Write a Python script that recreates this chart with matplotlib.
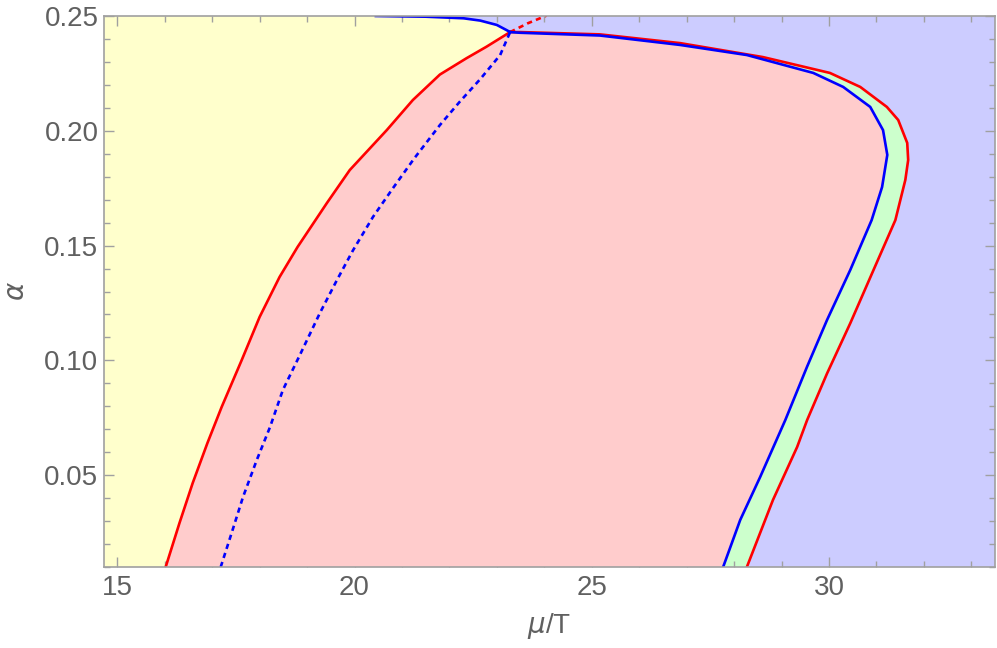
import matplotlib
matplotlib.use("Agg")
import matplotlib.pyplot as plt
from matplotlib.ticker import MultipleLocator, FormatStrFormatter

# Red boundary, left branch (bottom -> junction)
red_left_x = [16.02, 16.31, 16.59, 16.90, 17.20, 17.62, 18.00, 18.42, 18.80, 19.42, 19.90, 20.68, 21.23, 21.80, 22.36, 22.78, 23.28]
red_left_y = [0.010, 0.0291, 0.0466, 0.064, 0.0797, 0.100, 0.1189, 0.1363, 0.1494, 0.1686, 0.1829, 0.2003, 0.2134, 0.2245, 0.2316, 0.2366, 0.2430]

# Red boundary, right branch (junction -> bottom)
red_right_x = [23.28, 23.49, 25.17, 26.86, 28.61, 30.02, 30.66, 31.22, 31.46, 31.65, 31.67, 31.61, 31.40, 30.94, 30.45, 29.96, 29.54, 29.33, 28.82, 28.27]
red_right_y = [0.2430, 0.2430, 0.2420, 0.2382, 0.2321, 0.2252, 0.2191, 0.2104, 0.2047, 0.1947, 0.1873, 0.1786, 0.1611, 0.1394, 0.1162, 0.0943, 0.0740, 0.0623, 0.0392, 0.010]

# Red dashed continuation above junction
red_dash_x = [23.28, 23.65, 24.05]
red_dash_y = [0.2430, 0.2468, 0.2502]

# Blue boundary, right branch (junction -> bottom)
blue_right_x = [23.28, 23.49, 25.17, 26.86, 28.27, 29.67, 30.30, 30.87, 31.14, 31.23, 31.12, 30.90, 30.45, 29.96, 29.54, 29.08, 28.55, 28.13, 27.77]
blue_right_y = [0.2430, 0.2427, 0.2415, 0.2374, 0.2330, 0.2252, 0.2191, 0.2104, 0.2003, 0.1895, 0.1755, 0.1611, 0.1394, 0.1176, 0.0973, 0.0740, 0.0492, 0.0305, 0.010]

# Blue boundary, top-left branch (top edge -> junction)
blue_top_x = [20.45, 21.5, 22.3, 22.65, 23.0, 23.21, 23.28]
blue_top_y = [0.2500, 0.2497, 0.2490, 0.2480, 0.2461, 0.2438, 0.2430]

# Blue dashed (bottom -> junction)
blue_dash_x = [17.18, 17.41, 17.65, 17.94, 18.22, 18.49, 18.85, 19.27, 19.63, 19.97, 20.39, 20.81, 21.26, 21.80, 22.22, 22.65, 23.07, 23.28]
blue_dash_y = [0.010, 0.0248, 0.0405, 0.0566, 0.071, 0.0871, 0.1024, 0.1206, 0.135, 0.148, 0.1625, 0.1750, 0.1880, 0.2025, 0.2127, 0.2225, 0.2330, 0.2430]

xmin, xmax = 14.72, 33.5
ymin, ymax = 0.01, 0.25

YELLOW = "#FFFFCC"
PINK = "#FFCCCC"
GREEN = "#CCFFCC"
LAV = "#CCCCFF"
GRAY = "#606060"
FRAME = "#A0A0A0"

fig = plt.figure(figsize=(9.97, 6.48), dpi=100)
ax = fig.add_axes([104/997, 81/648, 891/997, 551/648])
ax.set_facecolor(LAV)

# yellow region
yx = [xmin, red_left_x[0]] + red_left_x + blue_top_x[::-1] + [xmin, xmin]
yy = [ymin, ymin] + red_left_y + blue_top_y[::-1] + [ymax, ymin]
ax.fill(yx, yy, color=YELLOW, lw=0, zorder=1)
# green region (inside red)
ax.fill(red_left_x + red_right_x, red_left_y + red_right_y, color=GREEN, lw=0, zorder=1)
# pink region (inside red-left / blue-right)
ax.fill(red_left_x + blue_right_x, red_left_y + blue_right_y, color=PINK, lw=0, zorder=2)

lw = 1.9
ax.plot(red_left_x, red_left_y, color="#FF0000", lw=lw, zorder=4)
ax.plot(red_right_x, red_right_y, color="#FF0000", lw=lw, zorder=4)
ax.plot(red_dash_x, red_dash_y, color="#FF0000", lw=lw, dashes=(2.0, 1.6), zorder=4)
ax.plot(blue_right_x, blue_right_y, color="#0000FF", lw=lw, zorder=5)
ax.plot(blue_top_x, blue_top_y, color="#0000FF", lw=lw, zorder=5)
ax.plot(blue_dash_x, blue_dash_y, color="#0000FF", lw=lw, dashes=(2.0, 1.6), zorder=5)

ax.set_xlim(xmin, xmax)
ax.set_ylim(ymin, ymax)

ax.xaxis.set_major_locator(MultipleLocator(5))
ax.xaxis.set_minor_locator(MultipleLocator(1))
ax.yaxis.set_major_locator(MultipleLocator(0.05))
ax.yaxis.set_minor_locator(MultipleLocator(0.01))
ax.yaxis.set_major_formatter(FormatStrFormatter("%.2f"))

ax.tick_params(which="both", direction="in", top=True, right=True, color=FRAME, width=1)
ax.tick_params(which="major", length=7, labelsize=20, labelcolor=GRAY)
ax.tick_params(axis="y", which="major", pad=4)
ax.tick_params(axis="x", which="major", pad=6)
ax.tick_params(which="minor", length=4)
for lab in ax.get_xticklabels() + ax.get_yticklabels():
    lab.set_family("Liberation Sans")
for s in ax.spines.values():
    s.set_color(FRAME)
    s.set_linewidth(1.2)
    s.set_zorder(10)

ax.set_xlabel(r"$\mu$/T", fontsize=20, color=GRAY, family="Liberation Sans", labelpad=7)
ax.set_ylabel(r"$\alpha$", fontsize=20, color=GRAY, labelpad=10)

fig.savefig("out.png", dpi=100)
